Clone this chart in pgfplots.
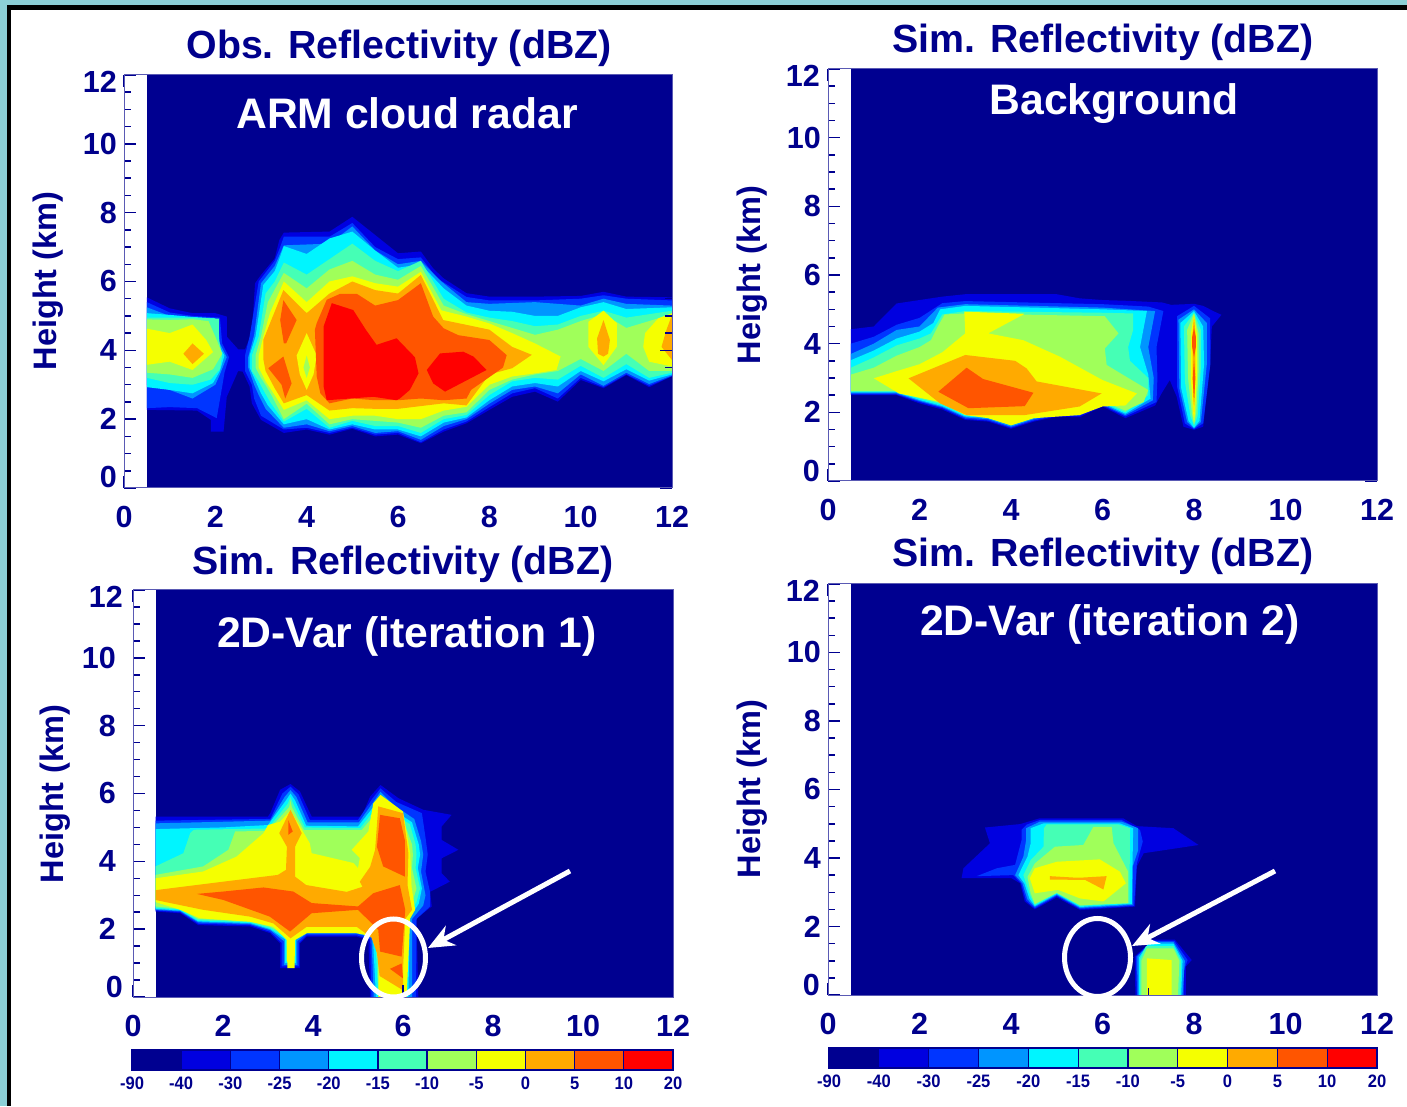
\documentclass[border=0pt]{standalone}
\usepackage{pgfplots}
\pgfplotsset{compat=1.18}
\usepackage{fontspec}
\setmainfont{Liberation Sans}
\usetikzlibrary{arrows.meta}
\definecolor{c0}{HTML}{000090}
\definecolor{c1}{HTML}{0000E0}
\definecolor{c2}{HTML}{0035FF}
\definecolor{c3}{HTML}{0095FF}
\definecolor{c4}{HTML}{00F5FF}
\definecolor{c5}{HTML}{45FFB5}
\definecolor{c6}{HTML}{A0FF5A}
\definecolor{c7}{HTML}{F5FF00}
\definecolor{c8}{HTML}{FFAA00}
\definecolor{c9}{HTML}{FF5500}
\definecolor{c10}{HTML}{FF0000}
\definecolor{nv}{HTML}{00008C}
\definecolor{fr}{HTML}{5A5AB4}
\definecolor{teal}{HTML}{8CCFD6}
\newcommand{\TL}{\fontsize{30.5}{32}\selectfont\bfseries\color{nv}}
\newcommand{\YL}{\fontsize{32.5}{34}\selectfont\bfseries\color{nv}}
\newcommand{\TT}{\fontsize{39.3}{42}\selectfont\bfseries\color{nv}}
\newcommand{\WT}{\fontsize{42.7}{46}\selectfont\bfseries\color{white}}
\newcommand{\PG}[2]{\addplot[fill=#1,draw=none,forget plot] coordinates {#2} -- cycle;}
\newcommand{\cb}[1]{\scalebox{.92}[1]{#1}}
\pgfplotsset{
 panel/.style={scale only axis,xmin=0,xmax=12,ymin=0,ymax=12,axis on top,
  xtick={0,2,4,6,8,10,12},ytick={0,2,4,6,8,10,12},
  xticklabels={0,2,4,6,8,10,12},yticklabels={{},2,4,6,8,10,{}},
  minor x tick num=1,minor y tick num=3,
  major tick length=12pt,minor tick length=7pt,
  tick style={color=c0,line width=1.5pt},
  axis line style={color=fr,line width=1pt},
  tick label style={font=\TL,inner sep=0pt},
  yticklabel style={xshift=-7pt},
  xticklabel style={yshift=-18pt}},
 cbar/.style={scale only axis,xmin=0,xmax=11,ymin=0,ymax=1,axis on top,
  xtick={0,1,2,3,4,5,6,7,8,9,10,11},ytick=\empty,
  xticklabels={\cb{-90},\cb{-40},\cb{-30},\cb{-25},\cb{-20},\cb{-15},\cb{-10},\cb{-5},\cb{0},\cb{5},\cb{10},\cb{20}},
  major tick length=0pt,
  axis line style={color=c0,line width=1.4pt},
  tick label style={font=\fontsize{18}{20}\selectfont\bfseries\color{nv},inner sep=0pt},
  xticklabel style={yshift=-7pt}}
}
\newcommand{\CB}{
 \addplot[fill=c0,draw=c0,line width=1.2pt,forget plot] coordinates {(0,0)(1,0)(1,1)(0,1)} -- cycle;
 \addplot[fill=c1,draw=c0,line width=1.2pt,forget plot] coordinates {(1,0)(2,0)(2,1)(1,1)} -- cycle;
 \addplot[fill=c2,draw=c0,line width=1.2pt,forget plot] coordinates {(2,0)(3,0)(3,1)(2,1)} -- cycle;
 \addplot[fill=c3,draw=c0,line width=1.2pt,forget plot] coordinates {(3,0)(4,0)(4,1)(3,1)} -- cycle;
 \addplot[fill=c4,draw=c0,line width=1.2pt,forget plot] coordinates {(4,0)(5,0)(5,1)(4,1)} -- cycle;
 \addplot[fill=c5,draw=c0,line width=1.2pt,forget plot] coordinates {(5,0)(6,0)(6,1)(5,1)} -- cycle;
 \addplot[fill=c6,draw=c0,line width=1.2pt,forget plot] coordinates {(6,0)(7,0)(7,1)(6,1)} -- cycle;
 \addplot[fill=c7,draw=c0,line width=1.2pt,forget plot] coordinates {(7,0)(8,0)(8,1)(7,1)} -- cycle;
 \addplot[fill=c8,draw=c0,line width=1.2pt,forget plot] coordinates {(8,0)(9,0)(9,1)(8,1)} -- cycle;
 \addplot[fill=c9,draw=c0,line width=1.2pt,forget plot] coordinates {(9,0)(10,0)(10,1)(9,1)} -- cycle;
 \addplot[fill=c10,draw=c0,line width=1.2pt,forget plot] coordinates {(10,0)(11,0)(11,1)(10,1)} -- cycle;
}
\begin{document}
\begin{tikzpicture}[x=1pt,y=1pt]
\path[use as bounding box] (0,0) rectangle (1407,1106);
\fill[teal] (0,0) rectangle (1407,1106);
\fill[black] (7,0) rectangle (1407,1101);
\fill[white] (11,0) rectangle (1407,1096);

% ---------- Panel A
\begin{axis}[panel,at={(124pt,618pt)},anchor=south west,width=548pt,height=413pt]
\PG{c0}{(0.5,0)(12,0)(12,12)(0.5,12)}
\PG{c1}{(0.5,5.54)(1,5.22)(1.5,5.08)(2,5.08)(2.25,4.98)(2.25,4.4)(2.5,4.03)(2.65,4.03)(2.8,4.5)(2.87,5.95)(3,6.19)(3.3,6.67)(3.4,7.2)(3.5,7.42)(4.5,7.45)(5,7.88)(6,6.82)(6.5,6.87)(6.77,6.38)(7,6.09)(7.5,5.66)(8,5.56)(9,5.56)(10,5.58)(10.5,5.7)(11,5.56)(12,5.54)(12,3.25)(11.5,2.93)(11,3.28)(10.5,2.9)(10,3.14)(9.5,2.51)(9,2.8)(8.5,2.65)(8,2.27)(7.5,1.88)(7,1.64)(6.5,1.3)(6,1.55)(5.5,1.5)(5,1.72)(4.5,1.55)(4,1.7)(3.5,1.6)(3,1.98)(2.8,2.46)(2.75,2.95)(2.6,3.38)(2.5,3.4)(2.35,2.95)(2.25,2.65)(2.18,1.64)(1.9,1.64)(1.9,1.98)(1.6,2.25)(0.5,2.27)}
\PG{c2}{(0.5,5.4)(1,5.1)(1.5,5)(2.1,4.95)(2.15,4.2)(2.3,3.8)(2.2,3.35)(2.15,2.95)(2.03,2.03)(1.6,2.32)(1,2.35)(0.5,2.32)}
\PG{c2}{(2.65,3.85)(2.75,4.4)(2.95,6)(3.3,6.6)(3.42,7)(3.5,7.3)(4.5,7.3)(5,7.7)(5.5,7)(6,6.65)(6.5,6.7)(6.85,6.1)(7.5,5.55)(8,5.45)(9,5.45)(10,5.5)(10.5,5.6)(11,5.5)(12,5.45)(12,3.25)(11.5,2.97)(11,3.3)(10.5,2.93)(10,3.2)(9.5,2.6)(9,2.9)(8.5,2.75)(8,2.35)(7.5,1.93)(7,1.7)(6.5,1.33)(6,1.6)(5.5,1.55)(5,1.75)(4.5,1.6)(4,1.75)(3.5,1.7)(3,2.1)(2.85,2.6)(2.8,3)(2.65,3.4)}
\PG{c3}{(0.5,5.25)(1,5)(1.5,4.95)(2.05,4.9)(2.1,4.2)(2.25,3.8)(2.1,3.3)(2,3)(1.5,2.6)(1,2.85)(0.5,3)}
\PG{c3}{(2.72,3.8)(2.85,4.45)(3,5.95)(3.3,6.45)(3.45,6.9)(3.5,7.05)(4.5,7.1)(5,7.6)(5.5,6.9)(6,6.5)(6.5,6.6)(6.95,6)(7.5,5.4)(8,5.35)(9,5.4)(10,5.3)(10.5,5.5)(11,5.35)(12,5.3)(12,3.27)(11.5,3.02)(11,3.35)(10.5,2.97)(10,3.3)(9.5,2.75)(9,2.95)(8.5,2.85)(8,2.45)(7.5,2)(7,1.8)(6.5,1.4)(6,1.65)(5.5,1.6)(5,1.8)(4.5,1.65)(4,1.85)(3.5,1.75)(3.1,2.3)(2.95,2.7)(2.85,3)(2.72,3.5)}
\PG{c4}{(0.5,5.08)(1,5.03)(1.5,4.97)(2,4.93)(2.05,4.2)(2.2,3.85)(2.1,3.4)(1.95,3.05)(1.5,2.75)(1,2.85)(0.5,2.93)}
\PG{c4}{(2.75,3.85)(2.88,4.4)(3.05,5.9)(3.3,6.3)(3.4,6.65)(3.5,7.03)(4,6.8)(4.5,7.25)(5,7.45)(5.5,6.9)(6,6.4)(6.5,6.5)(7,5.8)(7.5,5.3)(8,5.15)(8.5,5.12)(9,5)(9.5,5)(10,5.25)(10.5,5.4)(11,5.2)(12,5.25)(12,3.3)(11.5,3.12)(11,3.45)(10.5,3.1)(10,3.4)(9.5,2.95)(9,3.05)(8.5,2.95)(8,2.55)(7.5,2.05)(7,1.9)(6.5,1.5)(6,1.7)(5.5,1.7)(5,1.85)(4.5,1.7)(4,2)(3.5,1.85)(3.15,2.4)(3,2.75)(2.9,3.05)(2.75,3.5)}
\PG{c5}{(0.5,4.95)(1,4.95)(1.5,4.95)(2.08,4.92)(2.08,4.3)(2.15,3.85)(2.1,3.45)(1.9,3.15)(1.5,3)(1,3.05)(0.5,3.2)}
\PG{c5}{(2.8,3.85)(2.95,4.4)(3.1,5.65)(3.3,6)(3.5,6.55)(4,6.2)(4.5,6.65)(5,7.1)(5.5,6.6)(6,6.3)(6.5,6.6)(7,5.5)(7.5,5.1)(8,4.95)(8.5,4.85)(9,4.7)(9.5,4.75)(10,5)(10.5,5.15)(11,4.95)(12,5.15)(12,3.35)(11.5,3.2)(11,3.6)(10.5,3.2)(10,3.55)(9.5,3.15)(9,3.2)(8.5,3.1)(8,2.7)(7.5,2.12)(7,2)(6.5,1.6)(6,1.8)(5.5,1.8)(5,1.95)(4.5,1.75)(4,2.3)(3.5,1.93)(3.2,2.5)(3.05,2.85)(2.95,3.1)(2.8,3.4)}
\PG{c6}{(0.5,4.9)(1,4.88)(1.5,4.9)(1.85,4.85)(2.03,4.3)(2.15,3.9)(1.95,3.45)(1.5,3.2)(1,3.3)(0.5,3.35)}
\PG{c6}{(2.88,3.85)(3,4.4)(3.15,5.4)(3.5,6.25)(4,5.8)(4.5,6.35)(5,6.6)(5.5,6.2)(6,6.05)(6.5,6.45)(7,5.3)(7.5,5.05)(8,4.85)(8.5,4.65)(9,4.45)(9.5,4.6)(10,4.85)(10.5,5.05)(11,4.65)(12,5.05)(12,3.4)(11.5,3.4)(11,3.9)(10.5,3.4)(10,3.75)(9.5,3.4)(9,3.3)(8.5,3.15)(8,2.85)(7.5,2.2)(7,2.1)(6.5,1.75)(6,1.9)(5.5,1.95)(5,2)(4.5,1.85)(4,2.45)(3.5,2)(3.25,2.65)(3.1,3)(3,3.2)(2.88,3.5)}
\PG{c7}{(0.5,4.63)(1,4.5)(1.5,4.75)(1.8,4.3)(1.95,3.95)(1.5,3.43)(1,3.67)(0.5,3.58)}
\PG{c7}{(2.95,3.85)(3.05,4.4)(3.2,5.1)(3.5,6)(4,5.4)(4.5,6)(5,6.15)(5.5,5.95)(6,5.85)(6.5,6.28)(6.95,5.16)(7.5,4.98)(8,4.78)(8.5,4.5)(9,4.2)(9.56,3.82)(9.47,3.43)(9,3.33)(8.5,3.24)(8,3)(7.5,2.36)(7,2.25)(6.5,2)(6,2)(5.5,2.1)(5,2.1)(4.5,2)(4,2.55)(3.5,2.27)(3.3,2.7)(3.1,3.1)(2.95,3.5)}
\PG{c8}{(1.5,4.2)(1.75,3.9)(1.5,3.6)(1.3,3.9)}
\PG{c8}{(3.05,3.75)(3.05,4.3)(3.49,5.75)(4,5.08)(4.5,5.65)(5,6)(5.5,5.75)(6,5.65)(6.5,6.19)(6.99,4.88)(7.5,4.74)(8,4.6)(8.5,4.1)(8.93,3.87)(8.5,3.48)(8,3.3)(7.5,2.4)(7,2.46)(6.5,2.38)(6,2.3)(5.5,2.3)(5,2.32)(4.5,2.25)(4,2.7)(3.5,2.46)(3.3,2.9)(3.1,3.4)}
\PG{c7}{(4,4.5)(3.78,3.85)(3.85,3.3)(4,2.85)(4.15,3.3)(4.22,3.85)}
\PG{c6}{(4,3.85)(3.93,3.5)(4,3.2)(4.07,3.5)}
\PG{c9}{(3.49,5.46)(3.78,4.88)(3.55,4.2)(3.5,4.2)(3.42,4.88)}
\PG{c9}{(3.16,3.48)(3.49,3.82)(3.67,3.04)(3.53,2.6)(3.45,3)}
\PG{c9}{(4.22,4.79)(4.44,5.47)(4.73,5.64)(5.1,5.64)(5.5,5.3)(6,5.46)(6.5,5.95)(6.77,4.98)(7,4.64)(7.32,4.44)(8,4.3)(8.38,3.86)(8.3,3.5)(7.6,2.85)(7.5,2.6)(7,2.55)(6.5,2.6)(6,2.55)(5.5,2.55)(5,2.6)(4.5,2.46)(4.3,2.75)(4.22,3.24)(4.18,4.6)}
\PG{c10}{(4.37,4.69)(4.55,5.37)(5.02,5.17)(5.3,4.59)(5.53,4.16)(5.97,4.35)(6.26,3.95)(6.37,3.8)(6.45,3.33)(6.26,2.85)(6.04,2.6)(5.97,2.55)(5.46,2.65)(4.44,2.55)(4.37,2.95)}
\PG{c10}{(6.92,3.91)(7.43,3.96)(7.65,3.82)(7.94,3.43)(7.03,2.8)(6.77,3.04)(6.63,3.43)}
\PG{c7}{(10.5,5.15)(10.79,4.79)(10.79,4.1)(10.5,3.57)(10.17,4.1)(10.17,4.83)}
\PG{c8}{(10.5,4.88)(10.64,4.3)(10.6,3.9)(10.5,3.82)(10.38,3.9)(10.36,4.35)}
\PG{c7}{(12,5.08)(11.7,4.93)(11.41,4.5)(11.37,4.1)(11.5,3.67)(12,3.53)}
\PG{c8}{(12,5.03)(11.88,4.6)(11.77,4.1)(12,3.72)}
\end{axis}
\node[font=\TL,anchor=east,inner sep=0pt] at (117,1106-82) {12};
\node[font=\TL,anchor=east,inner sep=0pt] at (117,1106-477) {0};

% ---------- Panel B
\begin{axis}[panel,at={(828pt,625pt)},anchor=south west,width=549pt,height=412pt]
\PG{c0}{(0.5,0)(12,0)(12,12)(0.5,12)}
\PG{c1}{(0.5,4.42)(1,4.5)(1.5,5.17)(2,5.27)(2.5,5.37)(3,5.44)(5,5.44)(5.5,5.32)(6,5.27)(6.5,5.25)(7.3,5.2)(7.5,5.13)(8,5.16)(8.2,5.1)(8.45,4.93)(8.6,4.84)(8.39,4.5)(8.35,3.43)(8.2,1.58)(8,1.49)(7.77,1.58)(7.62,2.46)(7.47,2.94)(7.29,2.55)(7.15,2.2)(6.5,1.83)(6,2.17)(5.5,1.86)(5,1.87)(4.5,1.73)(4,1.52)(3.5,1.73)(3,1.78)(2.5,2.08)(2,2.26)(1.5,2.5)(0.5,2.5)}
\PG{c2}{(0.5,4)(1,4.2)(1.5,4.55)(2,4.75)(2.5,5.18)(3,5.24)(6,5.15)(7,5.08)(7.33,4.95)(7.18,3.9)(7.2,3)(7.18,2.3)(6.5,1.88)(6,2.2)(5.5,1.9)(5,1.9)(4.5,1.76)(4,1.55)(3.5,1.76)(3,1.81)(2.5,2.12)(2,2.3)(1.5,2.52)(0.5,2.52)}
\PG{c3}{(0.5,3.7)(1,4)(1.5,4.4)(2,4.5)(2.4,5.05)(3,5.15)(6,5.05)(7.15,4.95)(7,3.9)(7.12,3)(7.1,2.35)(6.5,1.92)(6,2.23)(5.5,1.94)(5,1.94)(4.5,1.8)(4,1.58)(3.5,1.8)(3,1.85)(2.5,2.15)(2,2.33)(1.5,2.55)(0.5,2.55)}
\PG{c4}{(0.5,3.52)(1,3.8)(1.5,4.15)(2,4.35)(2.3,4.6)(2.45,5)(3,5.1)(6,5)(6.97,4.95)(6.82,3.9)(7,3.1)(7.05,2.4)(6.5,1.96)(6,2.27)(5.5,1.98)(5,1.98)(4.5,1.84)(4,1.62)(3.5,1.84)(3,1.88)(2.5,2.18)(2,2.36)(1.5,2.58)(0.5,2.58)}
\PG{c5}{(0.5,3.3)(1,3.6)(1.5,3.95)(2,4.15)(2.25,4.3)(2.5,4.85)(3,4.95)(6,4.9)(6.67,4.88)(6.67,4.4)(6.56,3.9)(6.6,3.5)(7,3)(7,2.5)(6.5,2)(6,2.3)(5.5,2)(5,2)(4.5,1.87)(4,1.66)(3.5,1.87)(3,1.92)(2.5,2.22)(2,2.4)(1.5,2.6)(0.5,2.6)}
\PG{c6}{(0.5,3.1)(1,3.3)(1.5,3.65)(2,3.9)(2.25,4.1)(2.4,4.5)(2.55,4.85)(3,4.88)(6.05,4.8)(6.35,4.3)(6.05,3.86)(6.09,3.38)(6.5,3.05)(7,2.65)(6.9,2.3)(6.5,2.05)(6,2.33)(5.5,2.03)(5,2.03)(4.5,1.9)(4,1.68)(3.5,1.9)(3,1.95)(2.5,2.26)(2,2.44)(1.5,2.62)(0.5,2.62)}
\PG{c7}{(1,2.99)(1.5,3.2)(2,3.4)(2.5,3.75)(3,4.3)(2.98,4.93)(4.3,4.87)(3.5,4.3)(4.27,4.1)(5.07,3.62)(6,2.94)(6.75,2.55)(6.5,2.2)(6,2.17)(5.5,1.92)(4.5,1.83)(4,1.62)(3.5,1.83)(3,1.92)(2.45,2.3)(1.55,2.55)}
\PG{c8}{(1.76,2.99)(3,3.67)(4.09,3.5)(4.34,3.28)(4.56,2.9)(5.98,2.55)(5.5,2.17)(4.3,1.92)(3.03,1.92)(2.45,2.26)}
\PG{c9}{(2.41,2.6)(3.03,3.3)(3.39,2.97)(4.49,2.57)(4.3,2.18)(3.07,2.12)}
\PG{c2}{(8,5.1)(8.35,4.74)(8.36,3.43)(8.2,1.68)(8,1.51)(7.8,1.68)(7.63,2.75)(7.63,4.8)}
\PG{c3}{(8,5)(8.28,4.6)(8.28,3.4)(8.15,1.72)(8,1.53)(7.85,1.72)(7.68,2.7)(7.66,4.7)}
\PG{c4}{(8,4.95)(8.2,4.5)(8.22,3.4)(8.12,1.75)(8,1.55)(7.88,1.75)(7.72,2.7)(7.7,4.6)}
\PG{c5}{(8,4.9)(8.15,4.4)(8.15,3.3)(8.08,1.9)(8,1.6)(7.92,1.9)(7.8,2.9)(7.78,4.5)}
\PG{c6}{(8,4.88)(8.1,4.3)(8.1,3.2)(8.05,2)(8,1.65)(7.95,2)(7.87,3)(7.85,4.4)}
\PG{c7}{(8,4.85)(8.06,4.3)(8.07,3.2)(8.02,2)(8,1.7)(7.98,2)(7.93,3)(7.93,4.3)}
\PG{c8}{(8,4.8)(8.03,4.3)(8.03,3.2)(8,2)(7.97,3.2)(7.97,4.3)}
\PG{c9}{(8,4.45)(8.04,4.2)(8.04,3.9)(8,3.6)(7.96,3.9)(7.96,4.2)}
\PG{c9}{(8,3.5)(8.03,3)(8,2.3)(7.97,3)}
\end{axis}
\node[font=\TL,anchor=east,inner sep=0pt] at (820,1106-76) {12};
\node[font=\TL,anchor=east,inner sep=0pt] at (820,1106-471) {0};

% ---------- Panel C
\begin{axis}[panel,at={(133pt,109pt)},anchor=south west,width=540pt,height=407pt,yticklabel style={xshift=-10pt}]
\PG{c0}{(0.5,0)(12,0)(12,12)(0.5,12)}
\PG{c1}{(0.5,5.32)(3,5.32)(3.05,5.42)(3.27,6.11)(3.5,6.28)(3.71,6.06)(3.97,5.32)(5,5.32)(5.08,5.32)(5.27,5.91)(5.5,6.25)(5.9,5.86)(6.45,5.52)(7.08,5.37)(6.86,5.03)(6.86,4.63)(7.23,4.34)(6.86,4.09)(6.86,3.65)(7.04,3.4)(6.6,3.1)(6.64,2.67)(6.3,2.32)(6.34,0)(5.27,0)(5.23,1.68)(4.97,1.78)(3.86,1.78)(3.71,1.58)(3.71,0.85)(3.27,0.85)(3.27,1.58)(3.05,1.88)(2.6,2.08)(1.45,2.12)(1.05,2.47)(0.5,2.52)}
\PG{c2}{(0.5,5.2)(3.05,5.25)(3.32,6)(3.5,6.2)(3.68,5.97)(3.93,5.22)(5,5.22)(5.32,5.85)(5.5,6.15)(5.85,5.75)(6.42,5.42)(6.5,4.7)(6.55,4.2)(6.5,3.7)(6.6,3.1)(6.6,2.67)(6.3,2.3)(6.29,0)(5.3,0)(5.27,1.7)(4.97,1.82)(3.86,1.82)(3.69,1.6)(3.69,0.9)(3.3,0.9)(3.3,1.6)(3.05,1.92)(2.6,2.12)(1.45,2.16)(1.05,2.5)(0.5,2.55)}
\PG{c3}{(0.5,5.12)(3.05,5.2)(3.37,5.9)(3.5,6.1)(3.63,5.9)(3.88,5.15)(5.02,5.15)(5.37,5.8)(5.5,6.05)(5.8,5.65)(6.25,5.25)(6.4,4.6)(6.45,4.2)(6.4,3.7)(6.5,3)(6.45,2.7)(6.2,2.3)(6.2,0)(5.35,0)(5.3,1.75)(4.97,1.87)(3.86,1.87)(3.65,1.65)(3.65,0.95)(3.35,0.95)(3.35,1.65)(3.05,1.97)(2.6,2.15)(1.45,2.2)(1.05,2.53)(0.5,2.57)}
\PG{c4}{(0.5,4.95)(2,5)(3,5.07)(3.4,5.8)(3.5,6)(3.6,5.8)(3.85,5.05)(5,5.03)(5.4,5.7)(5.5,5.95)(5.75,5.55)(6.2,5.15)(6.35,4.5)(6.38,4.2)(6.33,3.8)(6.42,3.2)(6.35,2.75)(6.15,2.35)(6.12,0)(5.4,0)(5.33,1.78)(4.97,1.9)(3.86,1.9)(3.62,1.7)(3.62,1)(3.38,1)(3.38,1.7)(3.05,2)(2.6,2.18)(1.45,2.23)(1.05,2.55)(0.5,2.6)}
\PG{c5}{(0.5,3.85)(1.12,4.24)(1.27,4.83)(1.35,4.93)(3,4.97)(3.44,5.7)(3.5,5.9)(3.56,5.7)(3.82,5)(5.05,4.98)(5.42,5.6)(5.5,5.85)(5.72,5.45)(6.15,5.1)(6.28,4.5)(6.3,4.2)(6.28,3.8)(6.38,3.2)(6.3,2.8)(6.1,2.4)(6.07,0)(5.45,0)(5.38,1.8)(4.97,1.93)(3.86,1.93)(3.6,1.75)(3.6,1.05)(3.4,1.05)(3.4,1.75)(3.05,2.03)(2.6,2.2)(1.45,2.26)(1.05,2.58)(0.5,2.63)}
\PG{c6}{(0.5,3.6)(1.56,3.85)(2.12,4.34)(2.27,4.88)(3,4.9)(3.47,5.6)(3.5,5.8)(3.53,5.6)(3.8,4.92)(5.08,4.92)(5.45,5.5)(5.5,5.75)(5.68,5.4)(6.05,5.05)(6.2,4.5)(6.22,4.2)(6.2,3.8)(6.3,3.2)(6.22,2.85)(6.05,2.45)(6.03,0)(5.5,0)(5.43,1.85)(4.97,1.97)(3.86,1.97)(3.57,1.8)(3.57,1.1)(3.43,1.1)(3.43,1.8)(3.05,2.07)(2.6,2.23)(1.45,2.3)(1.05,2.6)(0.5,2.67)}
\PG{c7}{(0.5,3.5)(1.56,3.7)(2.3,4.14)(2.9,4.83)(3,5.07)(3.27,5.17)(3.5,5.5)(3.71,5.03)(3.93,4.53)(3.97,4.24)(4.9,3.95)(5,3.8)(5.04,4.1)(4.86,4.34)(5.23,4.88)(5.34,5.71)(5.5,5.96)(6,5.47)(6.16,4.24)(6.19,3.25)(6.27,2.57)(6.16,2.32)(6.08,0)(5.45,0)(5.45,1.6)(5.34,1.78)(4.97,1.88)(3.86,1.88)(3.6,1.68)(3.59,0.85)(3.43,0.85)(3.42,1.68)(3.12,2.07)(2.6,2.22)(1.49,2.32)(1.05,2.57)(0.5,2.8)}
\PG{c8}{(0.5,3.15)(1.7,3.35)(3.22,3.6)(3.4,3.75)(3.42,4.43)(3.25,4.83)(3.5,5.52)(3.75,4.83)(3.6,4.43)(3.6,3.55)(3.85,3.3)(4.75,3.1)(5.1,3.25)(5.04,3.4)(5.27,3.84)(5.38,4.34)(5.45,5.62)(6,5.42)(6.12,4.24)(6.1,3.3)(6.2,2.57)(6.05,2.3)(6,0.8)(6,0.2)(5.48,0.62)(5.42,1.3)(5.3,1.75)(4.97,2.07)(3.86,2.07)(3.5,1.73)(3.12,2.17)(2.6,2.37)(1.56,2.57)(0.5,2.86)}
\PG{c9}{(1.42,3.04)(2.01,3.11)(2.9,3.23)(3.56,3.11)(3.97,2.77)(5,2.67)(5.34,3.06)(5.93,3.3)(6.05,2.57)(5.97,1.19)(5.49,1.34)(5.45,1.98)(5,2.57)(3.97,2.47)(3.49,1.93)(3.04,2.37)(2.01,2.86)}
\PG{c9}{(5.49,5.37)(5.93,5.27)(6.04,4.63)(6.04,3.55)(5.56,3.85)(5.42,4.43)}
\PG{c9}{(3.45,5.22)(3.55,4.88)(3.45,4.78)}
\PG{c9}{(5.71,0.83)(5.97,0.99)(6,0.55)}
\end{axis}
\node[font=\TL,anchor=east,inner sep=0pt] at (123,1106-597) {12};
\node[font=\TL,anchor=east,inner sep=0pt] at (123,1106-987) {0};

% ---------- Panel D
\begin{axis}[panel,at={(828pt,111pt)},anchor=south west,width=549pt,height=411pt]
\PG{c0}{(0.5,0)(12,0)(12,12)(0.5,12)}
\PG{c1}{(3.43,4.89)(4.2,4.99)(4.63,5.16)(6.45,5.16)(6.75,4.93)(7.55,4.87)(8.1,4.38)(6.9,4.14)(6.75,3.75)(6.71,2.58)(5.51,2.48)(5,2.85)(4.52,2.5)(4.3,2.73)(4.2,3.26)(4.01,3.41)(2.92,3.41)(2.96,3.7)(3.54,4.43)}
\PG{c2}{(4.23,4.82)(4.35,4.98)(4.63,5.11)(6.42,5.11)(6.82,4.82)(6.88,4.48)(6.75,3.84)(6.69,2.6)(5.51,2.51)(5,2.89)(4.52,2.53)(4.33,2.75)(4.22,3.26)(4.05,3.5)(3.25,3.47)(3.69,3.7)(4.09,3.8)(4.23,4.52)}
\PG{c3}{(4.33,4.87)(4.63,5.06)(6.42,5.06)(6.78,4.87)(6.78,4.23)(6.66,3.75)(6.66,2.63)(5.51,2.54)(5,2.92)(4.52,2.57)(4.36,2.79)(4.25,3.26)(4.09,3.5)(4.27,4.04)(4.33,4.52)}
\PG{c4}{(4.43,4.87)(4.71,5.01)(6.38,5.01)(6.67,4.87)(6.64,2.66)(5.51,2.57)(5,2.95)(4.52,2.6)(4.4,2.82)(4.29,3.26)(4.16,3.5)(4.36,4.04)(4.43,4.43)}
\PG{c5}{(4.72,4.87)(4.78,4.98)(6.35,4.98)(6.6,4.87)(6.59,2.68)(5.51,2.6)(5,2.98)(4.52,2.63)(4.43,2.87)(4.33,3.26)(4.27,3.5)(4.43,3.94)(4.71,4.33)}
\PG{c6}{(5.8,4.91)(6.2,4.91)(6.24,4.43)(6.56,3.6)(6.56,2.68)(5.51,2.62)(5,2.98)(4.52,2.66)(4.43,2.97)(4.36,3.45)(4.52,3.84)(4.96,4.33)(5.58,4.38)}
\PG{c7}{(4.52,3.7)(5,3.89)(5.94,3.96)(6.38,3.6)(6.51,3.26)(6.02,2.73)(5.51,2.82)(5.03,3.07)(4.52,2.97)(4.41,3.41)}
\PG{c8}{(4.85,3.47)(5.36,3.43)(5.58,3.43)(6.09,3.47)(6.02,3.08)(5.62,3.36)(4.85,3.37)}
\PG{c1}{(7.1,1.62)(7.58,1.62)(7.95,1.02)(7.82,0.83)(7.82,0)(6.72,0)(6.7,1.12)}
\PG{c2}{(7.1,1.58)(7.57,1.58)(7.86,1.02)(7.78,0.73)(7.78,0)(6.75,0)(6.73,1.12)}
\PG{c3}{(7.05,1.55)(7.55,1.55)(7.8,1)(7.75,0)(6.77,0)(6.76,1.12)}
\PG{c4}{(7,1.5)(7.55,1.5)(7.75,1)(7.72,0)(6.8,0)(6.8,1.1)}
\PG{c5}{(6.95,1.43)(7.55,1.43)(7.72,1)(7.7,0)(6.82,0)(6.82,1.05)}
\PG{c6}{(6.97,1.36)(7.55,1.36)(7.68,1)(7.65,0)(6.85,0)(6.85,1)}
\PG{c7}{(6.97,1.07)(7.51,1.02)(7.51,0)(6.97,0)}
\end{axis}
\node[font=\TL,anchor=east,inner sep=0pt] at (820,1106-591) {12};
\node[font=\TL,anchor=east,inner sep=0pt] at (820,1106-985) {0};

% ---------- colour bars
\begin{axis}[cbar,at={(132pt,36pt)},anchor=south west,width=541pt,height=20pt]
\CB
\end{axis}
\begin{axis}[cbar,at={(829pt,38pt)},anchor=south west,width=548pt,height=20pt]
\CB
\end{axis}

% ---------- titles, labels, notes
\node[font=\TT] at (399,1106-48) {Obs. Reflectivity (dBZ)};
\node[font=\TT] at (1103,1106-42) {Sim. Reflectivity (dBZ)};
\node[font=\TT] at (403,1106-564) {Sim. Reflectivity (dBZ)};
\node[font=\TT] at (1103,1106-556) {Sim. Reflectivity (dBZ)};
\node[font=\YL,rotate=90] at (48,1106-281) {Height (km)};
\node[font=\YL,rotate=90] at (752,1106-275) {Height (km)};
\node[font=\YL,rotate=90] at (55,1106-794) {Height (km)};
\node[font=\YL,rotate=90] at (752,1106-789) {Height (km)};
\node[font=\WT] at (407,1106-113) {ARM cloud radar};
\node[font=\WT] at (1114,1106-104) {Background};
\node[font=\WT] at (407,1106-636) {2D-Var (iteration 1)};
\node[font=\WT] at (1110,1106-624) {2D-Var (iteration 2)};
\draw[white,line width=5pt] (393.5,1106-958) ellipse [x radius=32,y radius=39];
\draw[white,line width=5pt] (1097.5,1106-957.5) ellipse [x radius=33,y radius=39];
\draw[white,line width=5pt,-{Stealth[length=26pt,width=22pt]}] (570,1106-871) -- (428,1106-948);
\draw[white,line width=5pt,-{Stealth[length=26pt,width=22pt]}] (1275,1106-871) -- (1132,1106-946);
\end{tikzpicture}
\end{document}
